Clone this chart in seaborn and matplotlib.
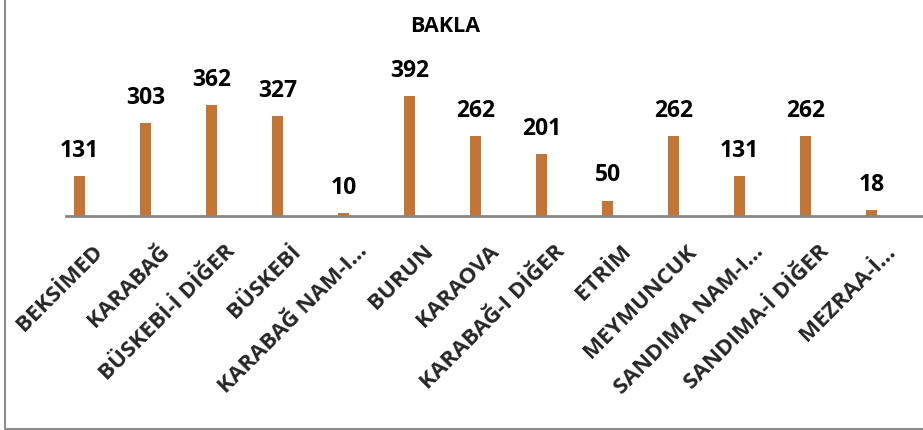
import matplotlib
matplotlib.use("Agg")
import matplotlib.pyplot as plt
import matplotlib.transforms as mtransforms
import seaborn as sns
import pandas as pd
from matplotlib.lines import Line2D

categories = ["BEKSİMED", "KARABAĞ", "BÜSKEBİ-İ DİĞER", "BÜSKEBİ", "KARABAĞ NAM-I...",
              "BURUN", "KARAOVA", "KARABAĞ-I DİĞER", "ETRİM", "MEYMUNCUK",
              "SANDIMA NAM-I...", "SANDIMA-İ DİĞER", "MEZRAA-İ..."]
values = [131, 303, 362, 327, 10, 392, 262, 201, 50, 262, 131, 262, 18]
title = "BAKLA"

sns.set_theme(style="white")
plt.rcParams['font.family'] = ['Open Sans', 'DejaVu Sans']

W, H = 923, 430
fig = plt.figure(figsize=(W / 100, H / 100), dpi=100)
# axes: left 66px, right edge of image, baseline y=216px, top y=30px
ax = fig.add_axes([66 / W, (H - 216) / H, 857 / W, 186 / H])

df = pd.DataFrame({"cat": categories, "val": values})
sns.barplot(data=df, x="cat", y="val", color="#C27535", width=0.16,
            saturation=1, ax=ax, edgecolor="none")

px_per_unit = 120 / 392
ax.set_ylim(0, 186 / px_per_unit)
ax.set_xlim(-13.5 / 66, -13.5 / 66 + 857 / 66)

for i, v in enumerate(values):
    ax.annotate(str(v), (i, v), xytext=(0, 9.5), textcoords="offset points",
                ha="center", va="bottom", fontsize=16.5, fontweight="bold", color="black")

for s in ["top", "right", "left"]:
    ax.spines[s].set_visible(False)
ax.spines["bottom"].set_color("#878787")
ax.spines["bottom"].set_linewidth(2)
ax.set_yticks([])
ax.set_xlabel("")
ax.set_ylabel("")
ax.tick_params(axis="x", length=0, pad=0)
ax.set_xticks(range(len(categories)))
ax.set_xticklabels(categories, rotation=45, ha="right", va="top",
                   rotation_mode="anchor", fontsize=16.2, fontweight="bold")
offset = mtransforms.ScaledTranslation(13 / 100, -25 / 100, fig.dpi_scale_trans)
for lab in ax.get_xticklabels():
    lab.set_transform(lab.get_transform() + offset)

fig.text(445 / W, 1 - 27 / H, title, ha="center", va="center",
         fontsize=15.5, fontweight="bold", color="black")

# chart border (left and bottom visible)
fig.add_artist(Line2D([4.5 / W, 4.5 / W], [0, 1], transform=fig.transFigure,
                      color="#8c8c8c", lw=1.5))
fig.add_artist(Line2D([4.5 / W, 1], [1.5 / H, 1.5 / H], transform=fig.transFigure,
                      color="#8c8c8c", lw=1.5))

fig.savefig("out.png", dpi=100)
